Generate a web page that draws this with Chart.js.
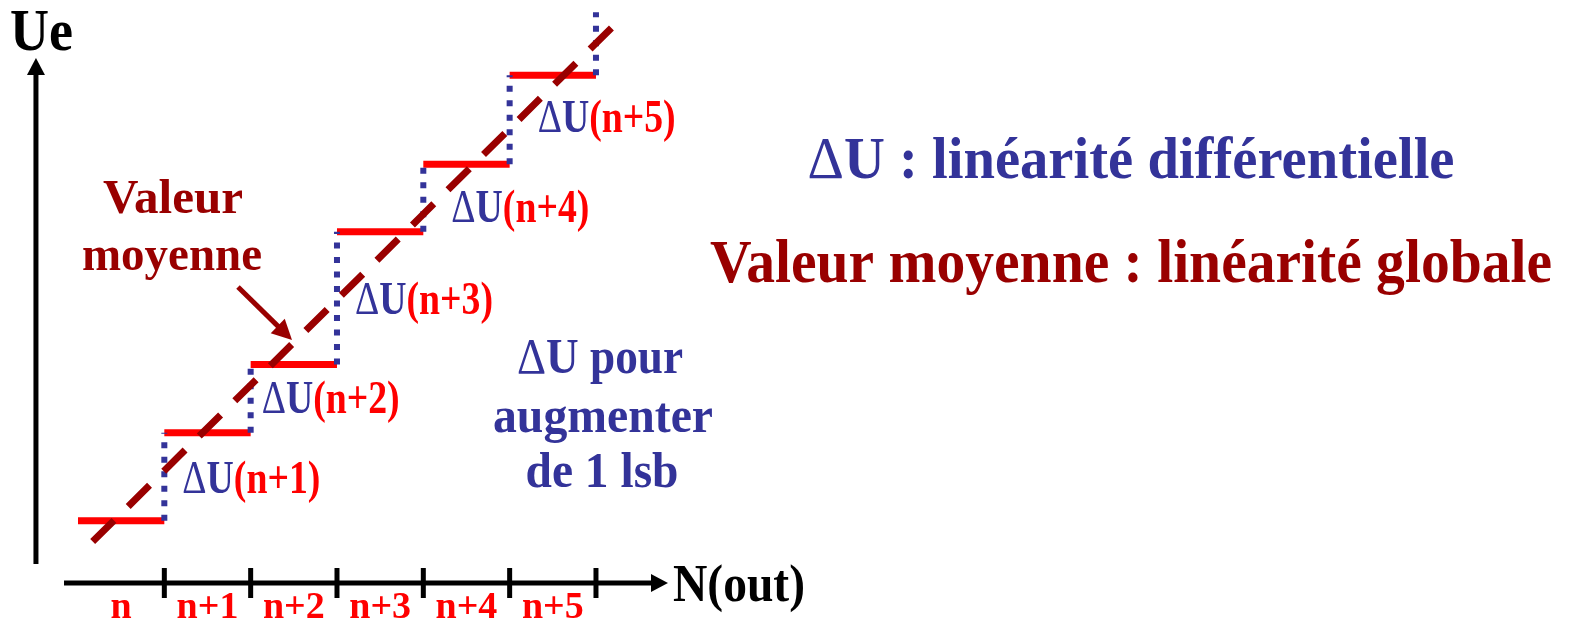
<!DOCTYPE html>
<html>
<head>
<meta charset="utf-8">
<title>Linéarité d'un convertisseur</title>
<script src="https://cdn.jsdelivr.net/npm/chart.js@4.4.1/dist/chart.umd.min.js"></script>
<style>
  html, body { margin: 0; padding: 0; background: #ffffff; overflow: hidden; }
  #wrap { width: 1574px; height: 621px; }
  canvas { display: block; }
</style>
</head>
<body>
<div id="wrap"><canvas id="chart" width="1574" height="621"></canvas></div>
<script>
// Output codes N(out), one per plateau
const codes = ['n', 'n+1', 'n+2', 'n+3', 'n+4', 'n+5'];
// Input voltage Ue of each plateau (units of 1 lsb)
const levels = [0.72, 1.74, 2.53, 4.07, 4.85, 5.88];
// Upper end of the transition after the last plateau
const lastTop = 6.61;
// Transition labels ΔU(n+k)
const stepLabels = ['n+1', 'n+2', 'n+3', 'n+4', 'n+5'];
// Mean transfer line (code position / Ue at both ends)
const meanX = [0.17, 6.19];
const meanY = [0.48, 6.44];

const RED = '#ff0000';
const DARK_RED = '#990000';
const BLUE = '#333399';
const BLACK = '#000000';
const FONT = '"Liberation Serif", "Times New Roman", serif';

// Horizontal plateaus, separated by gaps
const treads = [];
levels.forEach((v, k) => {
  treads.push({ x: k, y: v }, { x: k + 1, y: v }, { x: k + 1, y: null });
});
// Vertical transitions between plateaus
const risers = [];
levels.forEach((v, k) => {
  const top = k < levels.length - 1 ? levels[k + 1] : lastTop;
  risers.push({ x: k + 1, y: v }, { x: k + 1, y: top }, { x: k + 1, y: null });
});
const meanLine = meanX.map((x, i) => ({ x, y: meanY[i] }));

// Draw a run of coloured text pieces, optionally squeezed to a given width.
// A piece may carry its own weight as a third element.
function drawRun(ctx, parts, x, y, size, width, align) {
  ctx.textBaseline = 'alphabetic';
  ctx.textAlign = 'left';
  const fontOf = p => (p[2] || 'bold') + ' ' + size + 'px ' + FONT;
  const ws = parts.map(p => { ctx.font = fontOf(p); return ctx.measureText(p[0]).width; });
  const total = ws.reduce((a, b) => a + b, 0);
  const s = width ? width / total : 1;
  const left = align === 'center' ? x - total * s / 2 : x;
  ctx.save();
  ctx.translate(left, y);
  ctx.scale(s, 1);
  let cx = 0;
  parts.forEach((p, i) => {
    ctx.font = fontOf(p);
    ctx.fillStyle = p[1];
    ctx.fillText(p[0], cx, 0);
    cx += ws[i];
  });
  ctx.restore();
}

function arrowHead(ctx, x0, y0, x1, y1, len, half, color) {
  const a = Math.atan2(y1 - y0, x1 - x0);
  const bx = x1 - len * Math.cos(a), by = y1 - len * Math.sin(a);
  ctx.beginPath();
  ctx.moveTo(x1, y1);
  ctx.lineTo(bx + half * Math.sin(a), by - half * Math.cos(a));
  ctx.lineTo(bx - half * Math.sin(a), by + half * Math.cos(a));
  ctx.closePath();
  ctx.fillStyle = color;
  ctx.fill();
}

function arrow(ctx, x0, y0, x1, y1, w, len, half, color) {
  const a = Math.atan2(y1 - y0, x1 - x0);
  ctx.beginPath();
  ctx.moveTo(x0, y0);
  ctx.lineTo(x1 - (len - 2) * Math.cos(a), y1 - (len - 2) * Math.sin(a));
  ctx.strokeStyle = color;
  ctx.lineWidth = w;
  ctx.lineCap = 'butt';
  ctx.stroke();
  arrowHead(ctx, x0, y0, x1, y1, len, half, color);
}

// Axes with arrows and code ticks
const axesPlugin = {
  id: 'axesPlugin',
  beforeDatasetsDraw(chart) {
    const { ctx, scales: { x, y } } = chart;
    const y0 = y.getPixelForValue(0);
    const xa = x.getPixelForValue(-0.487);
    ctx.save();
    // horizontal axis
    arrow(ctx, x.getPixelForValue(-0.162), y0, x.getPixelForValue(6.834), y0, 5, 17, 9, BLACK);
    // vertical axis
    arrow(ctx, xa, y.getPixelForValue(0.22), xa, y.getPixelForValue(6.08), 5, 17, 9, BLACK);
    // ticks at plateau boundaries
    ctx.strokeStyle = BLACK;
    ctx.lineWidth = 5;
    for (let k = 1; k <= codes.length; k++) {
      const px = x.getPixelForValue(k);
      ctx.beginPath();
      ctx.moveTo(px, y0 - 15);
      ctx.lineTo(px, y0 + 15);
      ctx.stroke();
    }
    ctx.restore();
  },
  afterDatasetsDraw(chart) {
    const { ctx, scales: { x, y } } = chart;
    ctx.save();
    // axis titles
    drawRun(ctx, [['Ue', BLACK]], 10, 50, 60, 63, 'left');
    drawRun(ctx, [['N(out)', BLACK]], 673, 601, 52, 132, 'left');
    // code names under each plateau
    codes.forEach((c, k) => {
      drawRun(ctx, [[c, RED]], x.getPixelForValue(k + 0.5), 618, 38, null, 'center');
    });
    // ΔU labels beside each transition
    const nudge = [[18, 16], [11, 14], [18, 16], [28, 24], [28, 12]];
    stepLabels.forEach((lab, i) => {
      const px = x.getPixelForValue(i + 1);
      const mid = (y.getPixelForValue(levels[i]) + y.getPixelForValue(levels[i + 1])) / 2;
      drawRun(ctx, [['\u0394', BLUE, 'normal'], ['U', BLUE], ['(' + lab + ')', RED]],
        px + nudge[i][0], mid + nudge[i][1], 46, 138, 'left');
    });
    // mean value callout
    drawRun(ctx, [['Valeur', DARK_RED]], 173, 213, 49, 140, 'center');
    drawRun(ctx, [['moyenne', DARK_RED]], 172, 270, 49, 180, 'center');
    arrow(ctx, 238, 287, 292, 340, 5, 20, 10, DARK_RED);
    // step explanation
    drawRun(ctx, [['\u0394', BLUE, 'normal'], ['U pour', BLUE]], 600, 373, 50, 166, 'center');
    drawRun(ctx, [['augmenter', BLUE]], 603, 432, 50, 220, 'center');
    drawRun(ctx, [['de 1 lsb', BLUE]], 602, 487, 50, 153, 'center');
    // legend of the two linearity notions
    drawRun(ctx, [['\u0394', BLUE, 'normal'], ['U : linéarité différentielle', BLUE]], 1131, 178, 60, 647, 'center');
    drawRun(ctx, [['Valeur moyenne : linéarité globale', DARK_RED]], 1131, 282, 62, 842, 'center');
    ctx.restore();
  }
};

new Chart(document.getElementById('chart'), {
  type: 'line',
  data: {
    datasets: [
      {
        label: 'Valeur moyenne',
        data: meanLine,
        borderColor: DARK_RED,
        borderWidth: 7,
        borderDash: [30, 20],
        borderCapStyle: 'butt',
        pointRadius: 0,
        tension: 0,
        order: 1
      },
      {
        label: '\u0394U',
        data: risers,
        borderColor: BLUE,
        borderWidth: 6,
        borderDash: [6, 8.5],
        borderCapStyle: 'butt',
        pointRadius: 0,
        spanGaps: false,
        order: 2
      },
      {
        label: 'N(out)',
        data: treads,
        borderColor: RED,
        borderWidth: 7,
        borderCapStyle: 'butt',
        pointRadius: 0,
        spanGaps: false,
        order: 3
      }
    ]
  },
  options: {
    responsive: false,
    animation: false,
    devicePixelRatio: 1,
    layout: { padding: 0 },
    plugins: { legend: { display: false }, tooltip: { enabled: false }, title: { display: false } },
    scales: {
      x: { type: 'linear', min: -0.9035, max: 17.329, display: false },
      y: { type: 'linear', min: -0.440, max: 6.753, display: false }
    }
  },
  plugins: [axesPlugin]
});
</script>
</body>
</html>
